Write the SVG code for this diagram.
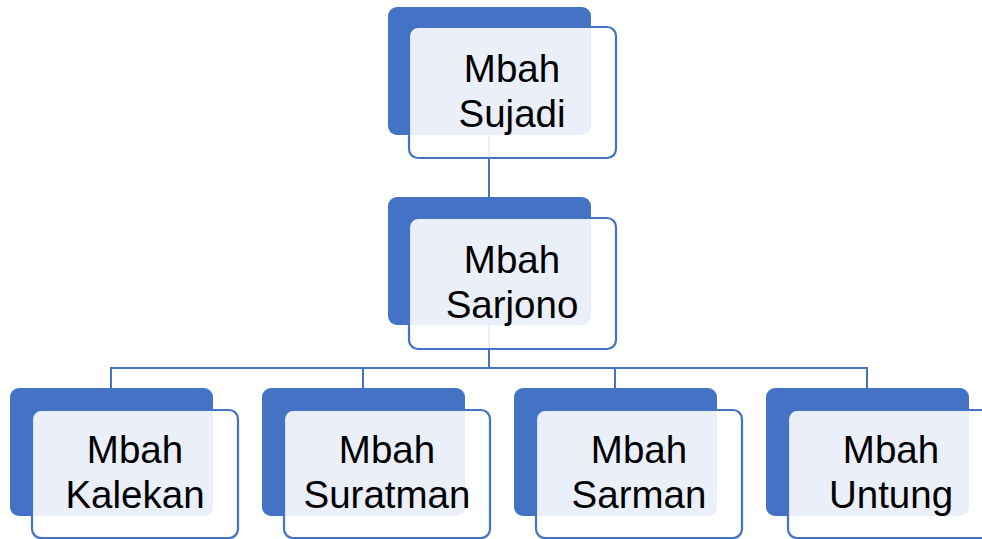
<svg xmlns="http://www.w3.org/2000/svg" width="982" height="539" viewBox="0 0 982 539">
<style>
.back{fill:#4472C4;}
.front{fill:#FFFFFF;fill-opacity:0.89;stroke:#4472C4;stroke-width:2.2;}
.lbl{font-family:"Liberation Sans",Arial,sans-serif;font-size:38.5px;fill:#000;text-anchor:middle;}
.conn{fill:none;stroke:#4472C4;stroke-width:2;}
</style>
<rect width="982" height="539" fill="#FFFFFF"/>
<g id="connectors">
<path class="conn" d="M489,134 V198"/>
<path class="conn" d="M489,325 V368"/>
<path class="conn" d="M111,389 V368 H867 V389"/>
<path class="conn" d="M363,368 V389"/>
<path class="conn" d="M615,368 V389"/>
</g>
<g id="node-sujadi">
<rect class="back" x="388" y="7" width="203" height="128" rx="9"/>
<rect class="front" x="409" y="27" width="207" height="131" rx="9"/>
<text class="lbl" x="512" y="82">Mbah</text>
<text class="lbl" x="512" y="127">Sujadi</text>
</g>
<g id="node-sarjono">
<rect class="back" x="388" y="197" width="203" height="128" rx="9"/>
<rect class="front" x="409" y="218" width="207" height="131" rx="9"/>
<text class="lbl" x="512" y="273">Mbah</text>
<text class="lbl" x="512" y="318">Sarjono</text>
</g>
<g id="node-kalekan">
<rect class="back" x="10" y="388" width="203" height="128" rx="9"/>
<rect class="front" x="32" y="410" width="206" height="128" rx="9"/>
<text class="lbl" x="135" y="463">Mbah</text>
<text class="lbl" x="135" y="508">Kalekan</text>
</g>
<g id="node-suratman">
<rect class="back" x="262" y="388" width="203" height="128" rx="9"/>
<rect class="front" x="284" y="410" width="206" height="128" rx="9"/>
<text class="lbl" x="387" y="463">Mbah</text>
<text class="lbl" x="387" y="508">Suratman</text>
</g>
<g id="node-sarman">
<rect class="back" x="514" y="388" width="203" height="128" rx="9"/>
<rect class="front" x="536" y="410" width="206" height="128" rx="9"/>
<text class="lbl" x="639" y="463">Mbah</text>
<text class="lbl" x="639" y="508">Sarman</text>
</g>
<g id="node-untung">
<rect class="back" x="766" y="388" width="203" height="128" rx="9"/>
<rect class="front" x="788" y="410" width="206" height="128" rx="9"/>
<text class="lbl" x="891" y="463">Mbah</text>
<text class="lbl" x="891" y="508">Untung</text>
</g>
</svg>
